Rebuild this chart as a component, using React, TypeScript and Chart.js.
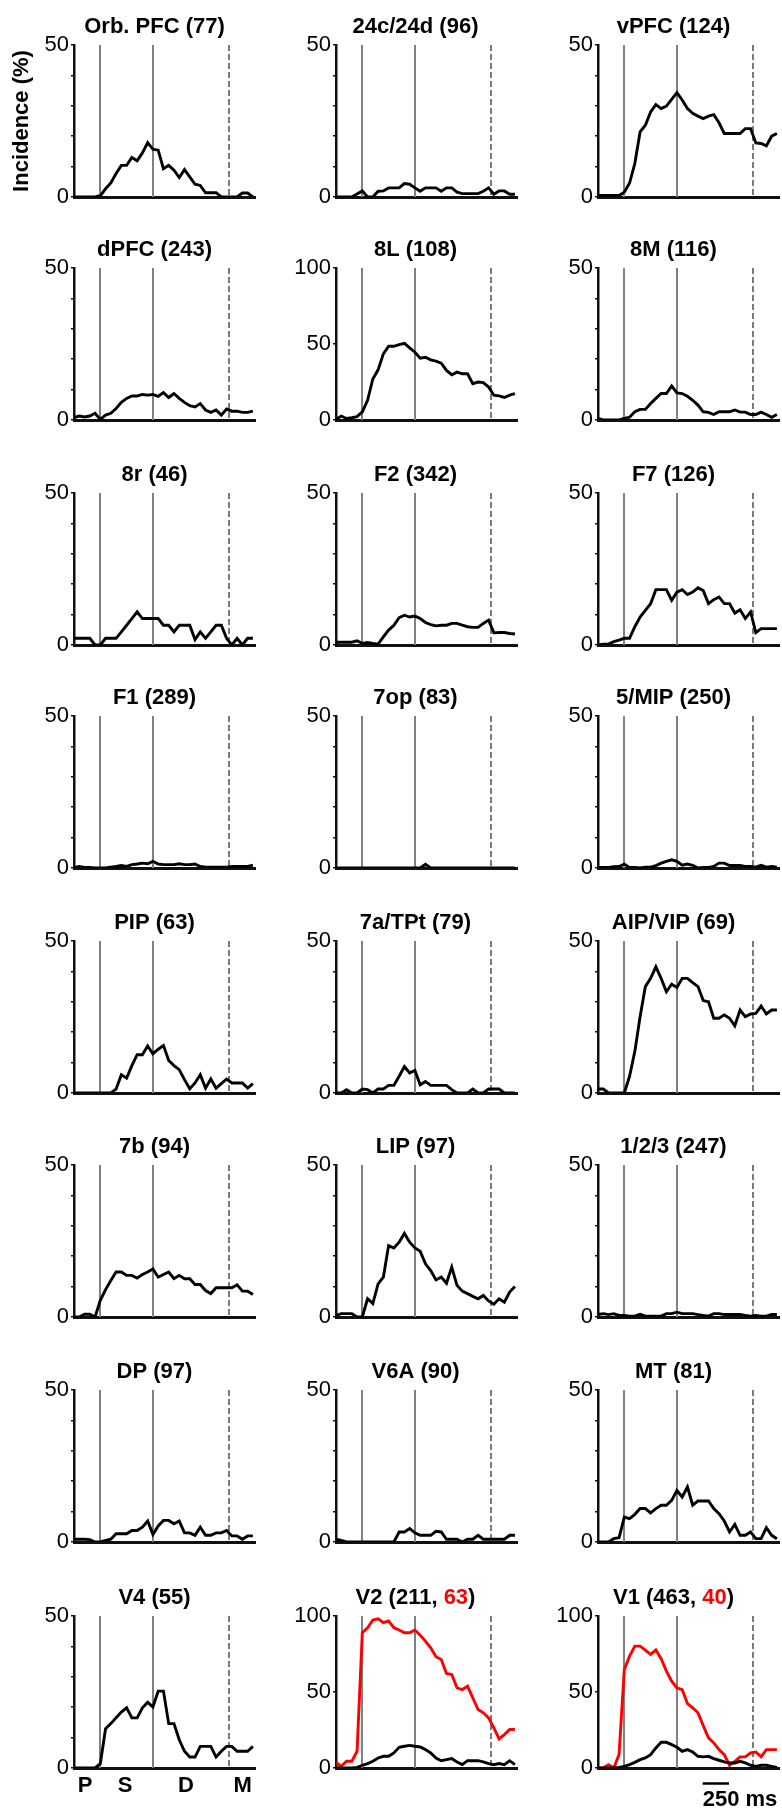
import React, { useEffect, useRef } from 'react';
import { Chart, registerables } from 'chart.js';

Chart.register(...registerables);

// ---------------- data ----------------
const TIME_MS = [-250, -200, -150, -100, -50, 0, 50, 100, 150, 200, 250, 300, 350, 400, 450, 500, 550, 600, 650, 700, 750, 800, 850, 900, 950, 1000, 1050, 1100, 1150, 1200, 1250, 1300, 1350, 1400, 1450];

const ORB_PFC = [0, 0, 0, 0, 0, 0.4, 2.7, 4.6, 7.7, 10.4, 10.4, 13, 11.9, 14.5, 17.9, 15.7, 15.4, 9.3, 10.4, 8.8, 6.4, 9, 6.6, 4.2, 3.8, 1.4, 1.4, 1.4, 0, 0, 0, 0, 1.3, 1.3, 0];
const CING_24 = [0, 0, 0, 0, 1, 2, 0, 0, 1.9, 2, 3, 3, 3, 4.4, 4.2, 3, 1.9, 3, 3, 3, 1.9, 3, 3, 1.6, 1.1, 1.1, 1.1, 1.1, 1.9, 3, 0.9, 2, 2, 0.9, 0.9];
const VPFC = [0.5, 0.5, 0.5, 0.5, 0.5, 1.6, 4.6, 11, 21.4, 23.6, 28, 30.4, 29.1, 29.9, 32.1, 34.3, 31.9, 29.1, 27.5, 26.6, 25.8, 26.6, 27.1, 24.4, 20.9, 20.9, 20.9, 20.9, 22.5, 22.5, 17.8, 17.6, 16.8, 20, 20.9];
const DPFC = [0.8, 1.3, 1, 1.3, 2.2, 0.2, 1.6, 2.2, 3.8, 5.8, 7.1, 7.9, 7.9, 8.4, 8.2, 8.4, 7.8, 9, 7.4, 8.7, 7.1, 5.8, 4.7, 4.3, 5.4, 3.3, 2.5, 3.3, 1.6, 3.6, 2.9, 2.9, 2.5, 2.5, 2.9];
const AREA_8L = [0.4, 2.6, 1, 1.5, 2.2, 5.4, 13, 27, 33, 43.5, 48.5, 48.5, 49.6, 50.4, 47.4, 44.6, 40.7, 41.3, 39.6, 38.7, 37.4, 32.6, 29.8, 31.5, 30.4, 30.4, 23.9, 25, 24.6, 21.7, 16.3, 15.9, 14.8, 16.3, 17.4];
const AREA_8M = [0.5, 0, 0, 0, 0, 0.5, 0.9, 2.7, 3.5, 3.5, 5.4, 7.1, 8.7, 8.7, 11.2, 8.9, 8.7, 7.8, 6.5, 4.9, 2.7, 2.5, 1.8, 2.7, 2.7, 2.7, 3.3, 2.6, 2.6, 1.8, 1.8, 2.6, 1.8, 0.9, 1.8];
const AREA_8R = [2.2, 2.2, 2.2, 2.2, 0, 0, 2.2, 2.2, 2.2, 4.3, 6.5, 8.7, 10.9, 8.7, 8.7, 8.7, 8.7, 6.5, 6.5, 4.3, 6.5, 6.5, 6.5, 1.8, 4.3, 2.2, 4.3, 6.5, 6.5, 2.2, 0, 2.2, 0, 2.2, 2.2];
const AREA_F2 = [0.9, 0.9, 0.9, 0.9, 1.4, 0.5, 0.8, 0.5, 0.3, 2.7, 4.9, 6.5, 9, 9.8, 9.2, 9.5, 8.7, 7.4, 6.7, 6.3, 6.5, 6.5, 7.1, 7.1, 6.5, 6, 5.8, 5.8, 7.1, 8.2, 4, 4.1, 4.1, 3.8, 3.6];
const AREA_F7 = [0, 0.3, 0.3, 1.1, 1.6, 2.2, 2.2, 6, 9.2, 11.4, 13.6, 18.2, 18.2, 18.2, 14.7, 17.4, 18.2, 16.6, 17.4, 18.8, 17.9, 13.6, 14.9, 15.8, 13.6, 13.6, 10.5, 11.6, 8.7, 10.9, 4.1, 5.4, 5.4, 5.4, 5.4];
const AREA_F1 = [0.2, 0.5, 0.2, 0.2, 0, 0, 0, 0.3, 0.5, 0.8, 0.5, 1.1, 1.3, 1.6, 1.4, 2.2, 1.3, 1.1, 1.1, 1.1, 1.4, 1.1, 1.1, 1.3, 0.5, 0.3, 0.3, 0.3, 0.3, 0.3, 0.5, 0.5, 0.5, 0.5, 0.9];
const AREA_7OP = [0, 0, 0, 0, 0, 0, 0, 0, 0, 0, 0, 0, 0, 0, 0, 0, 0, 1.2, 0, 0, 0, 0, 0, 0, 0, 0, 0, 0, 0, 0, 0, 0, 0, 0, 0];
const AREA_5MIP = [0.2, 0.2, 0.2, 0.4, 0.5, 1.3, 0.2, 0.2, 0, 0.3, 0.3, 0.8, 1.6, 2.2, 2.7, 2.2, 0.9, 1.3, 0.9, 0, 0.2, 0.2, 0.5, 1.6, 1.6, 0.8, 0.8, 0.8, 0.5, 0.5, 0.3, 0.9, 0.3, 0.5, 0.3];
const AREA_PIP = [0, 0, 0, 0, 0, 0, 0, 0, 1.3, 6, 4.9, 9, 12.6, 12.6, 15.5, 12.9, 14.4, 15.6, 10.7, 9, 7.7, 4.4, 1.4, 3.3, 6, 1.6, 4.6, 1.6, 3.1, 4.6, 3.3, 3.3, 3.3, 1.6, 3.1];
const AREA_7A = [0, 0, 1.1, 0, 0, 1.3, 1.1, 0, 1.3, 1.3, 2.5, 2.5, 5.5, 8.7, 6.6, 7.4, 2.7, 3.8, 2.5, 2.5, 2.5, 2.5, 1.1, 0, 0, 0, 1.3, 0, 0, 1.3, 1.3, 1.3, 0, 0, 0];
const AREA_AIP = [1.3, 1.3, 0, 0, 0, 0, 5.5, 13.7, 25.1, 35, 37.7, 41.5, 37.7, 33.3, 35.8, 34.7, 37.7, 37.7, 36.3, 35, 30.4, 30, 24.6, 24.6, 25.7, 24.6, 22.1, 27.3, 25.1, 26, 26.2, 28.6, 26, 27.3, 27.3];
const AREA_7B = [0, 0, 0.9, 0.9, 0, 5.5, 9, 12, 14.8, 14.8, 13.7, 13.7, 12.8, 14, 14.8, 15.8, 13.1, 14, 14.8, 12.6, 13.7, 12.6, 12.6, 10.7, 10.7, 8.7, 7.7, 9.6, 9.6, 9.6, 9.6, 10.6, 8.5, 8.5, 7.4];
const AREA_LIP = [0.5, 1.1, 1.1, 1.1, 0, 0, 6, 4.4, 10.9, 13.1, 23.5, 22.7, 24.6, 27.5, 24.6, 22.7, 21.6, 17.5, 15.3, 12.2, 13.1, 11.1, 16.4, 10.4, 8.5, 7.7, 6.8, 6, 7.1, 5.3, 4.2, 6, 4.9, 8.2, 10];
const AREA_123 = [0.8, 1.1, 0.8, 1.1, 0.5, 0.5, 0.3, 0.3, 0.9, 0.3, 0.3, 0.3, 0.3, 1.1, 1.1, 1.6, 1.1, 1.1, 1.1, 0.8, 0.5, 0.3, 1.1, 1.1, 0.8, 0.8, 0.8, 0.8, 0.5, 0.3, 0.5, 0.3, 0.3, 0.8, 0.8];
const AREA_DP = [0.9, 0.9, 0.9, 0.8, 0, 0, 0.5, 0.9, 2.7, 2.7, 2.7, 3.8, 3.8, 4.9, 6.9, 2.5, 5.3, 7.1, 7.1, 6, 6.9, 3, 3, 2.2, 4.9, 2.2, 2.2, 3, 3, 3.8, 2, 2, 0.9, 2, 2];
const AREA_V6A = [0.9, 0.5, 0, 0, 0, 0, 0, 0, 0, 0, 0, 0, 3.3, 3.3, 4.4, 3, 2.2, 2.2, 2.2, 3.5, 3.3, 0.9, 0.9, 0.9, 0, 0.9, 0.9, 2.2, 0.9, 0.9, 0.9, 0.9, 0.9, 2.2, 2.2];
const AREA_MT = [0, 0, 0, 1.1, 1.4, 8.2, 7.7, 9.1, 11, 11, 9.6, 11, 12.1, 12.1, 13.7, 17, 14.8, 18.1, 12.1, 13.5, 13.5, 13.5, 11, 9.3, 6.9, 3.3, 5.8, 2.2, 2.2, 3.3, 1.1, 1.1, 4.7, 2.2, 1.1];
const AREA_V4 = [0, 0, 0, 0, 0, 1.4, 12.9, 14.6, 16.5, 18.4, 19.8, 16.5, 16.5, 19.8, 21.6, 20.1, 25.3, 25.3, 14.6, 14.6, 9.3, 5.5, 3.6, 3.6, 7.1, 7.1, 7.1, 3.6, 5.5, 7.1, 7.1, 5.5, 5.5, 5.5, 7.1];
const AREA_V2_ALL = [0, 0, 0, 0, 0.4, 1.8, 2.9, 4.4, 6.6, 7.7, 7.7, 9.9, 13.6, 14.3, 14.9, 14.3, 13.8, 12.1, 9.9, 6.6, 4.8, 5.5, 6.2, 4, 2.2, 4.8, 4.8, 4.8, 4, 2.9, 2.2, 2.9, 2.2, 4.8, 2.2];
const AREA_V2_SEL = [3.7, 1.1, 4.4, 4.4, 11, 89, 92.3, 97.4, 98.2, 95.6, 96.7, 92.3, 90.8, 89, 89, 90.8, 87.3, 83.5, 79.1, 73.2, 71.4, 62.2, 61.5, 52.7, 51.6, 53.8, 46.2, 38.5, 36.3, 33, 26.4, 19.1, 22, 25.3, 25.3];
const AREA_V1_ALL = [0, 0, 0, 0, 0.4, 1.1, 2.2, 3.7, 5.5, 6.6, 8.8, 13.2, 16.9, 16.9, 15.4, 13.6, 11, 12.1, 10.5, 7.7, 7.3, 7.7, 6.2, 5.1, 4, 3.3, 3.3, 4.4, 3.3, 1.8, 1.1, 1.8, 1.8, 1.1, 0.4];
const AREA_V1_SEL = [0, 0, 2.2, 0, 8.8, 64.8, 73.6, 80.2, 80.2, 77.6, 74.7, 77.6, 71.9, 63.7, 57.1, 52.7, 51.6, 42.4, 39.6, 36.3, 27.9, 19.8, 16.5, 12.1, 8.8, 1.8, 4.4, 7.3, 7.3, 9.9, 10.5, 7.3, 12.1, 12.1, 12.1];

const AREA_NAMES = ['Orb. PFC', '24c/24d', 'vPFC', 'dPFC', '8L', '8M', '8r', 'F2', 'F7', 'F1', '7op', '5/MIP', 'PIP', '7a/TPt', 'AIP/VIP', '7b', 'LIP', '1/2/3', 'DP', 'V6A', 'MT', 'V4', 'V2', 'V1'];
const NEURON_COUNTS = ['77', '96', '124', '243', '108', '116', '46', '342', '126', '289', '83', '250', '63', '79', '69', '94', '97', '247', '97', '90', '81', '55', '211', '463'];
const SELECTED_COUNTS: (string | null)[] = [null, null, null, null, null, null, null, null, null, null, null, null, null, null, null, null, null, null, null, null, null, null, '63', '40'];
const ALL_SERIES = [ORB_PFC, CING_24, VPFC, DPFC, AREA_8L, AREA_8M, AREA_8R, AREA_F2, AREA_F7, AREA_F1, AREA_7OP, AREA_5MIP, AREA_PIP, AREA_7A, AREA_AIP, AREA_7B, AREA_LIP, AREA_123, AREA_DP, AREA_V6A, AREA_MT, AREA_V4, AREA_V2_ALL, AREA_V1_ALL];
const SELECTED_SERIES: (number[] | null)[] = [null, null, null, null, null, null, null, null, null, null, null, null, null, null, null, null, null, null, null, null, null, null, AREA_V2_SEL, AREA_V1_SEL];
const Y_MAX = [50, 50, 50, 50, 100, 50, 50, 50, 50, 50, 50, 50, 50, 50, 50, 50, 50, 50, 50, 50, 50, 50, 100, 100];

const X_MIN_MS = -250;
const X_MAX_MS = 1470;
const EVENT_LINES_MS = [0, 500];
const DASHED_LINE_MS = 1220;
const EPOCH_LABELS = ['P', 'S', 'D', 'M'];
const EPOCH_LABEL_MS = [-145, 235, 814, 1353];
const SCALE_BAR_MS = [745, 995];
const SCALE_BAR_LABEL = '250 ms';
const Y_AXIS_TITLE = 'Incidence (%)';

// ---------------- layout ----------------
const FONT = '"Liberation Sans", Arial, Helvetica, sans-serif';
const COL_LEFT = [0, 262, 524];
const ROW_TOP = [0, 223, 448, 671, 896, 1120, 1345, 1571];
const CANVAS_W = 258;
const ROW_H = 224;
const LAST_ROW_H = 239;
const TITLE_SHIFT = [-10, -11, -15];

function Panel({ index }: { index: number }) {
  const ref = useRef<HTMLCanvasElement | null>(null);
  const row = Math.floor(index / 3);
  const col = index % 3;
  const height = row === 7 ? LAST_ROW_H : ROW_H;

  useEffect(() => {
    const canvas = ref.current;
    if (!canvas) return;
    const yMax = Y_MAX[index];
    const datasets: any[] = [
      {
        data: TIME_MS.map((t, i) => ({ x: t, y: ALL_SERIES[index][i] })),
        borderColor: '#000000',
        borderWidth: 2.9,
        pointRadius: 0,
        tension: 0,
        fill: false,
      },
    ];
    const sel = SELECTED_SERIES[index];
    if (sel) {
      datasets.push({
        data: TIME_MS.map((t, i) => ({ x: t, y: sel[i] })),
        borderColor: '#ff0000',
        borderWidth: 2.9,
        pointRadius: 0,
        tension: 0,
        fill: false,
      });
    }

    const decor = {
      id: 'decor',
      beforeDatasetsDraw(chart: any) {
        const { ctx, chartArea, scales } = chart;
        const x = scales.x;
        ctx.save();
        ctx.strokeStyle = '#808080';
        ctx.lineWidth = 2;
        for (const t of EVENT_LINES_MS) {
          const px = Math.round(x.getPixelForValue(t));
          ctx.beginPath();
          ctx.moveTo(px, chartArea.top);
          ctx.lineTo(px, chartArea.bottom);
          ctx.stroke();
        }
        ctx.strokeStyle = '#7a7a7a';
        ctx.setLineDash([6, 3]);
        const dx = Math.round(x.getPixelForValue(DASHED_LINE_MS));
        ctx.beginPath();
        ctx.moveTo(dx, chartArea.top);
        ctx.lineTo(dx, chartArea.bottom);
        ctx.stroke();
        ctx.restore();
      },
      afterDraw(chart: any) {
        const { ctx, chartArea, scales } = chart;
        const x = scales.x;
        ctx.save();
        ctx.font = `bold 22px ${FONT}`;
        ctx.textBaseline = 'alphabetic';
        ctx.textAlign = 'left';
        const red = SELECTED_COUNTS[index];
        const parts = red
          ? [
              { t: `${AREA_NAMES[index]} (${NEURON_COUNTS[index]}, `, c: '#000000' },
              { t: red, c: '#ff0000' },
              { t: ')', c: '#000000' },
            ]
          : [{ t: `${AREA_NAMES[index]} (${NEURON_COUNTS[index]})`, c: '#000000' }];
        const total = parts.reduce((s, p) => s + ctx.measureText(p.t).width, 0);
        let tx = (chartArea.left + chartArea.right) / 2 + TITLE_SHIFT[col] - total / 2;
        const ty = chartArea.top - 12;
        for (const p of parts) {
          ctx.fillStyle = p.c;
          ctx.fillText(p.t, tx, ty);
          tx += ctx.measureText(p.t).width;
        }

        ctx.fillStyle = '#000000';
        if (index === 0) {
          ctx.save();
          ctx.translate(28, (chartArea.top + chartArea.bottom) / 2);
          ctx.rotate(-Math.PI / 2);
          ctx.textAlign = 'center';
          ctx.fillText(Y_AXIS_TITLE, 0, 0);
          ctx.restore();
        }
        if (index === 21) {
          ctx.textAlign = 'center';
          EPOCH_LABELS.forEach((lab, i) => {
            ctx.fillText(lab, x.getPixelForValue(EPOCH_LABEL_MS[i]), chartArea.bottom + 24);
          });
        }
        if (index === 23) {
          const x0 = x.getPixelForValue(SCALE_BAR_MS[0]);
          const x1 = x.getPixelForValue(SCALE_BAR_MS[1]);
          ctx.strokeStyle = '#000000';
          ctx.lineWidth = 2.5;
          ctx.beginPath();
          ctx.moveTo(x0, chartArea.bottom + 15.5);
          ctx.lineTo(x1, chartArea.bottom + 15.5);
          ctx.stroke();
          ctx.textAlign = 'left';
          ctx.fillText(SCALE_BAR_LABEL, x0, chartArea.bottom + 38);
        }
        ctx.restore();
      },
    };

    const chart = new Chart(canvas, {
      type: 'line',
      data: { datasets },
      options: {
        responsive: false,
        animation: false,
        events: [],
        layout: { padding: { top: 45, right: 3, left: 0, bottom: 0 } },
        plugins: {
          legend: { display: false },
          tooltip: { enabled: false },
          title: { display: false },
        },
        scales: {
          x: {
            type: 'linear',
            min: X_MIN_MS,
            max: X_MAX_MS,
            ticks: { display: false },
            grid: { display: false },
            border: { display: true, color: '#111111', width: 3 },
            afterFit: (s: any) => {
              s.height = height - 197;
            },
          },
          y: {
            type: 'linear',
            min: 0,
            max: yMax,
            ticks: {
              stepSize: yMax === 50 ? 10 : 50,
              autoSkip: false,
              color: '#000000',
              padding: 2,
              font: { family: FONT, size: 22 },
              callback: (v: any) => (v === 0 || v === 50 || v === 100 ? String(v) : ''),
            },
            grid: {
              drawOnChartArea: false,
              drawTicks: true,
              tickLength: 3,
              color: '#111111',
              lineWidth: 1.5,
            },
            border: { display: true, color: '#111111', width: 2.5 },
            afterFit: (s: any) => {
              s.width = 74;
            },
          },
        },
      } as any,
      plugins: [decor],
    });
    return () => chart.destroy();
  }, [index, height, col]);

  return (
    <canvas
      ref={ref}
      width={CANVAS_W}
      height={height}
      style={{ position: 'absolute', left: COL_LEFT[col], top: ROW_TOP[row], width: CANVAS_W, height }}
    />
  );
}

export default function App() {
  return (
    <div style={{ position: 'absolute', left: 0, top: 0, width: 782, height: 1810, background: '#ffffff' }}>
      {AREA_NAMES.map((_, i) => (
        <Panel key={i} index={i} />
      ))}
    </div>
  );
}
